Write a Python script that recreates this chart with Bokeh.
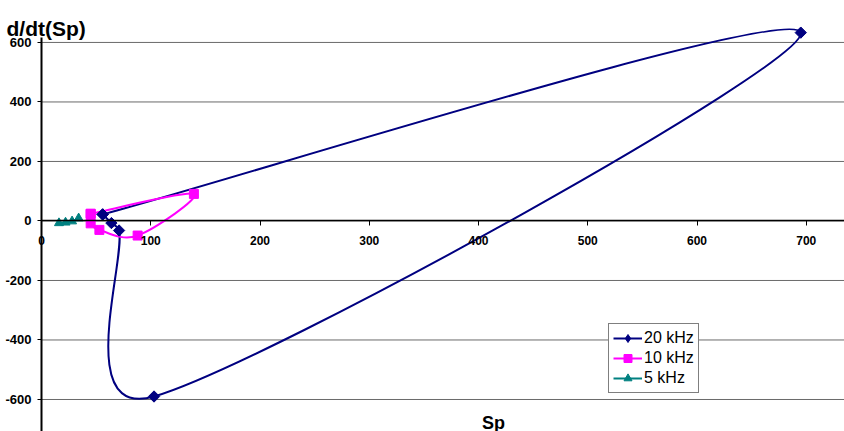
import math
from bokeh.plotting import figure
from bokeh.models import (Range1d, FixedTicker, Label, Legend, LegendItem,
                          ColumnDataSource, PrintfTickFormatter)
from bokeh.embed import file_html
from bokeh.resources import INLINE

# ---- data ----
sp_20k = [56, 695, 103, 71, 64, 56]
dsp_20k = [22, 633, -590, -32, -7, 22]
sp_10k = [45, 45, 53, 88, 139.5, 45]
dsp_10k = [24, -8, -30, -49, 91, 24]
sp_5k = [16, 22, 28, 34]
dsp_5k = [-7, -5, -1, 9]
series_names = ["20 kHz", "10 kHz", "5 kHz"]
x_ticks = [0, 100, 200, 300, 400, 500, 600, 700]
y_ticks = [-600, -400, -200, 0, 200, 400, 600]

W, H = 844, 431
LEFT = 41
KX = 1.0925          # px per x unit
X0 = -LEFT / KX
X1 = (W - LEFT) / KX
Y0, Y1 = -707.6, 741

p = figure(width=W, height=H, output_backend="svg", toolbar_location=None,
           x_range=Range1d(X0, X1), y_range=Range1d(Y0, Y1),
           min_border_left=0, min_border_right=0, min_border_top=0, min_border_bottom=0,
           background_fill_color="white", border_fill_color="white")
p.outline_line_color = None
p.xgrid.visible = False
p.ygrid.visible = False

# horizontal gridlines, starting at the value axis
p.segment(x0=[0] * len(y_ticks), x1=[X1] * len(y_ticks), y0=y_ticks, y1=y_ticks,
          line_color="#6a6a6a", line_width=1)

# axes
xa = p.xaxis[0]
xa.fixed_location = 0
xa.ticker = FixedTicker(ticks=x_ticks)
xa.bounds = (0, X1)
xa.axis_line_color = "black"
xa.axis_line_width = 1.5
xa.major_tick_out = 5
xa.major_tick_in = 0
xa.minor_tick_out = 0
xa.minor_tick_in = 0
xa.major_label_standoff = 10
xa.major_label_text_font = "Liberation Sans"
xa.major_label_text_font_style = "bold"
xa.major_label_text_font_size = "12px"
xa.major_label_text_color = "black"

ya = p.yaxis[0]
ya.fixed_location = 0
ya.ticker = FixedTicker(ticks=y_ticks)
ya.formatter = PrintfTickFormatter(format="%d")
ya.bounds = (-720, 615)
ya.axis_line_color = "black"
ya.axis_line_width = 2
ya.major_tick_out = 4
ya.major_tick_in = 0
ya.minor_tick_out = 0
ya.minor_tick_in = 0
ya.major_label_standoff = 6
ya.major_label_text_font = "Liberation Sans"
ya.major_label_text_font_style = "bold"
ya.major_label_text_font_size = "13px"
ya.major_label_text_color = "black"

# pixel scale factors used for Excel-like smoothing
kx = W / (X1 - X0)
ky = H / (Y1 - Y0)


def smooth_source(xs, ys):
    P = [(x * kx, y * ky) for x, y in zip(xs, ys)]
    n = len(P)
    d = dict(x0=[], y0=[], x1=[], y1=[], cx0=[], cy0=[], cx1=[], cy1=[])
    for i in range(n - 1):
        p0 = P[i - 1] if i > 0 else P[i]
        p1, p2 = P[i], P[i + 1]
        p3 = P[i + 2] if i + 2 < n else P[i + 1]
        seg = math.hypot(p2[0] - p1[0], p2[1] - p1[1])
        t1 = [(p2[0] - p0[0]) / 6, (p2[1] - p0[1]) / 6]
        t2 = [(p3[0] - p1[0]) / 6, (p3[1] - p1[1]) / 6]
        for t in (t1, t2):
            L = math.hypot(*t)
            if L > 0.5 * seg and L > 0:
                f = 0.5 * seg / L
                t[0] *= f
                t[1] *= f
        c1 = (p1[0] + t1[0], p1[1] + t1[1])
        c2 = (p2[0] - t2[0], p2[1] - t2[1])
        d["x0"].append(p1[0] / kx); d["y0"].append(p1[1] / ky)
        d["x1"].append(p2[0] / kx); d["y1"].append(p2[1] / ky)
        d["cx0"].append(c1[0] / kx); d["cy0"].append(c1[1] / ky)
        d["cx1"].append(c2[0] / kx); d["cy1"].append(c2[1] / ky)
    return ColumnDataSource(d)


# (xs, ys, colour, marker, size, angle, legend marker, legend size)
styles = [
    (sp_20k, dsp_20k, "#000080", "square", 8, math.pi / 4, "diamond", 11),
    (sp_10k, dsp_10k, "#FF00FF", "square", 9, 0, "square", 9),
    (sp_5k, dsp_5k, "#008080", "triangle", 9, 0, "triangle", 9),
]

items = []
for xs, ys, col, mk, sz, ang, lmk, lsz in styles:
    src = smooth_source(xs, ys)
    p.bezier(x0="x0", y0="y0", x1="x1", y1="y1", cx0="cx0", cy0="cy0",
             cx1="cx1", cy1="cy1", source=src, line_color=col, line_width=2)
for (xs, ys, col, mk, sz, ang, lmk, lsz), name in zip(styles, series_names):
    p.scatter(xs, ys, marker=mk, size=sz, angle=ang, fill_color=col, line_color=col)
    leg_line = p.line(xs, ys, line_color=col, line_width=2, visible=False)
    leg_mark = p.scatter(xs, ys, marker=lmk, size=lsz, fill_color=col, line_color=col,
                         visible=False)
    items.append(LegendItem(label=name, renderers=[leg_line, leg_mark]))

legend = Legend(items=items, location=(608, 38), orientation="vertical",
                border_line_color="black", border_line_width=1,
                background_fill_color="white", background_fill_alpha=1,
                label_text_font="Liberation Sans", label_text_font_size="16px",
                label_text_color="black", glyph_width=29, glyph_height=20,
                label_height=20, label_standoff=2, spacing=0, padding=4, margin=0)
p.add_layout(legend, "center")

p.add_layout(Label(x=6, y=H - 28, x_units="screen", y_units="screen",
                   text="d/dt(Sp)", text_font="Liberation Sans", text_font_style="bold",
                   text_font_size="21px", text_color="black", text_baseline="alphabetic"))
p.add_layout(Label(x=493, y=H - 422, x_units="screen", y_units="screen",
                   text="Sp", text_font="Liberation Sans", text_font_style="bold",
                   text_font_size="18px", text_color="black", text_align="center",
                   text_baseline="alphabetic"))

open("out.html", "w").write(file_html(p, INLINE))
